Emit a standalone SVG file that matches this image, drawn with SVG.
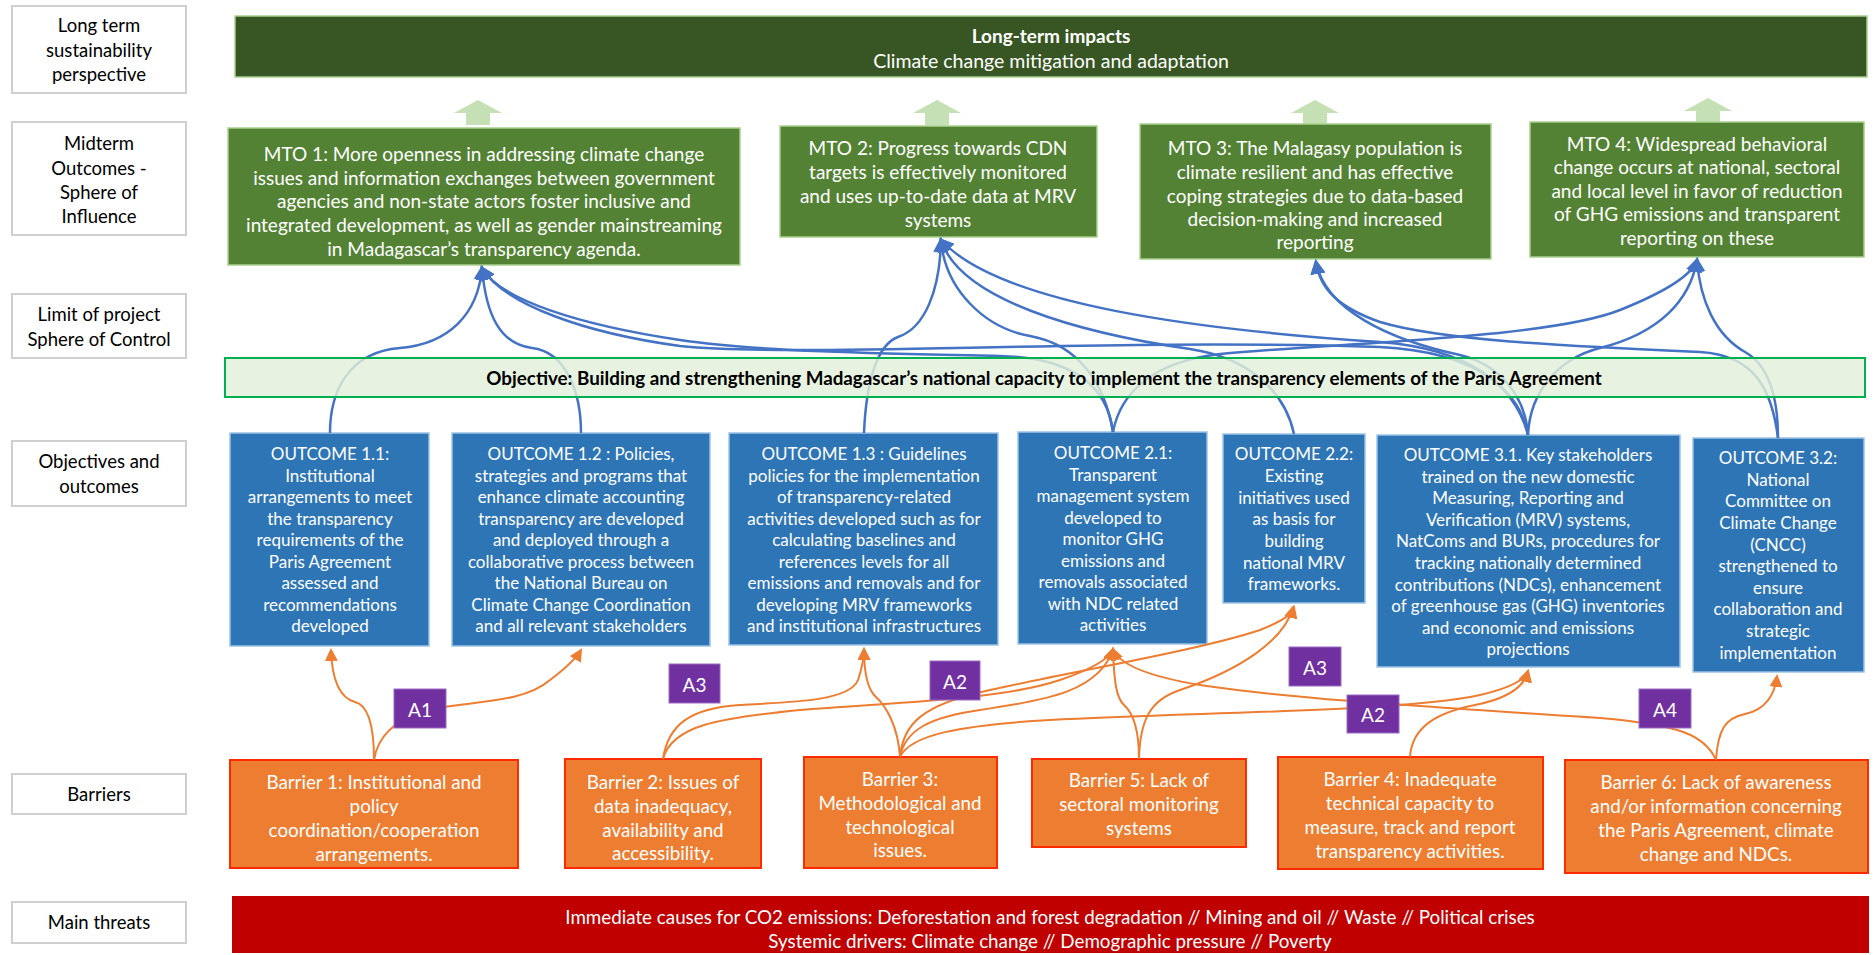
<svg xmlns="http://www.w3.org/2000/svg" width="1874" height="955" viewBox="0 0 1874 955">
<defs>
<style>
text { font-family: Lato, "Liberation Sans", sans-serif; dominant-baseline: central; text-anchor: middle; }
.lbl rect { fill:#FFFFFF; stroke:#CFCFCF; stroke-width:2; }
.lbl text { fill:#000000; font-size:18.5px; }
.top rect { fill:#375623; stroke:#A9D18E; stroke-width:1.5; }
.top text { fill:#FFFFFF; font-size:19.5px; }
.mto rect { fill:#548235; stroke:#A9D18E; stroke-width:1.5; }
.mto text { fill:#FFFFFF; font-size:19px; }
.out rect { fill:#2E75B6; stroke:#9DC3E6; stroke-width:1.5; }
.out text { fill:#FFFFFF; font-size:17px; }
.bar rect { fill:#ED7D31; stroke:#FF2A00; stroke-width:2; }
.bar text { fill:#FFFFFF; font-size:18.8px; }
.act rect { fill:#7030A0; stroke:#9A6CC4; stroke-width:1; }
.act text { fill:#FFFFFF; font-size:19px; }
.thr rect { fill:#C00000; }
.thr text { fill:#FFFFFF; font-size:18.8px; }
.obj rect { fill:#E2F0D9; fill-opacity:0.82; stroke:#00B050; stroke-width:2; }
.obj text { fill:#000000; font-size:18.8px; font-weight:bold; }
.bl { fill:none; stroke:#4472C4; stroke-width:2.5; marker-end:url(#ab); }
.or { fill:none; stroke:#ED7D31; stroke-width:2; marker-end:url(#ao); }
.up { fill:#C5E0B4; }
</style>
<marker id="ab" markerUnits="userSpaceOnUse" markerWidth="15" markerHeight="15" viewBox="0 0 15 15" refX="12" refY="7.5" orient="auto"><path d="M0,0 L15,7.5 L0,15 z" fill="#4472C4"/></marker>
<marker id="ao" markerUnits="userSpaceOnUse" markerWidth="13" markerHeight="13" viewBox="0 0 13 13" refX="11" refY="6.5" orient="auto"><path d="M0,0 L13,6.5 L0,13 z" fill="#ED7D31"/></marker>
</defs>

<!-- Left labels -->
<g id="lbl-longterm" class="lbl"><rect x="12" y="6" width="174" height="87"/><text><tspan x="99" y="25">Long term</tspan><tspan x="99" y="50">sustainability</tspan><tspan x="99" y="74">perspective</tspan></text></g>
<g id="lbl-midterm" class="lbl"><rect x="12" y="122" width="174" height="113"/><text><tspan x="99" y="143">Midterm</tspan><tspan x="99" y="168">Outcomes -</tspan><tspan x="99" y="192">Sphere of</tspan><tspan x="99" y="216">Influence</tspan></text></g>
<g id="lbl-limit" class="lbl"><rect x="12" y="294" width="174" height="64"/><text><tspan x="99" y="314">Limit of project</tspan><tspan x="99" y="339">Sphere of Control</tspan></text></g>
<g id="lbl-objectives" class="lbl"><rect x="12" y="441" width="174" height="65"/><text><tspan x="99" y="461">Objectives and</tspan><tspan x="99" y="486">outcomes</tspan></text></g>
<g id="lbl-barriers" class="lbl"><rect x="12" y="774" width="174" height="40"/><text x="99" y="794">Barriers</text></g>
<g id="lbl-threats" class="lbl"><rect x="12" y="902" width="174" height="41"/><text x="99" y="922">Main threats</text></g>

<!-- Long-term impacts -->
<g id="impacts" class="top"><rect x="235" y="16" width="1632" height="61"/><text><tspan x="1051" y="35" font-weight="bold" font-size="19px">Long-term impacts</tspan><tspan x="1051" y="60">Climate change mitigation and adaptation</tspan></text></g>

<!-- Block arrows -->
<g id="up-arrows">
<polygon class="up" points="478,100 502,113 490,113 490,125 466,125 466,113 454,113"/>
<polygon class="up" points="937,100 961,113 949,113 949,125 925,125 925,113 913,113"/>
<polygon class="up" points="1315,100 1339,113 1327,113 1327,125 1303,125 1303,113 1291,113"/>
<polygon class="up" points="1708,98 1732,111 1720,111 1720,123 1696,123 1696,111 1684,111"/>
</g>

<!-- MTOs -->
<g id="mto1" class="mto"><rect x="228" y="128" width="512" height="137"/><text><tspan x="484" y="153">MTO 1: More openness in addressing climate change</tspan><tspan x="484" y="177">issues and information exchanges between government</tspan><tspan x="484" y="200">agencies and non-state actors foster inclusive and</tspan><tspan x="484" y="224">integrated development, as well as gender mainstreaming</tspan><tspan x="484" y="248">in Madagascar’s transparency agenda.</tspan></text></g>
<g id="mto2" class="mto"><rect x="780" y="126" width="317" height="111"/><text><tspan x="938" y="147">MTO 2: Progress towards CDN</tspan><tspan x="938" y="171">targets is effectively monitored</tspan><tspan x="938" y="195">and uses up-to-date data at MRV</tspan><tspan x="938" y="219">systems</tspan></text></g>
<g id="mto3" class="mto"><rect x="1140" y="124" width="351" height="135"/><text><tspan x="1315" y="147">MTO 3: The Malagasy population is</tspan><tspan x="1315" y="171">climate resilient and has effective</tspan><tspan x="1315" y="195">coping strategies due to data-based</tspan><tspan x="1315" y="218">decision-making and increased</tspan><tspan x="1315" y="241">reporting</tspan></text></g>
<g id="mto4" class="mto"><rect x="1530" y="122" width="334" height="135"/><text><tspan x="1697" y="143">MTO 4: Widespread behavioral</tspan><tspan x="1697" y="166">change occurs at national, sectoral</tspan><tspan x="1697" y="190">and local level in favor of reduction</tspan><tspan x="1697" y="213">of GHG emissions and transparent</tspan><tspan x="1697" y="237">reporting on these</tspan></text></g>

<!-- Outcomes -->
<g id="o11" class="out"><rect x="230" y="433" width="199" height="213"/><text><tspan x="330" y="453">OUTCOME 1.1:</tspan><tspan x="330" y="475">Institutional</tspan><tspan x="330" y="496">arrangements to meet</tspan><tspan x="330" y="518">the transparency</tspan><tspan x="330" y="539">requirements of the</tspan><tspan x="330" y="561">Paris Agreement</tspan><tspan x="330" y="582">assessed and</tspan><tspan x="330" y="604">recommendations</tspan><tspan x="330" y="625">developed</tspan></text></g>
<g id="o12" class="out"><rect x="452" y="433" width="258" height="213"/><text><tspan x="581" y="453">OUTCOME 1.2 : Policies,</tspan><tspan x="581" y="475">strategies and programs that</tspan><tspan x="581" y="496">enhance climate accounting</tspan><tspan x="581" y="518">transparency are developed</tspan><tspan x="581" y="539">and deployed through a</tspan><tspan x="581" y="561">collaborative process between</tspan><tspan x="581" y="582">the National Bureau on</tspan><tspan x="581" y="604">Climate Change Coordination</tspan><tspan x="581" y="625">and all relevant stakeholders</tspan></text></g>
<g id="o13" class="out"><rect x="729" y="433" width="269" height="212"/><text><tspan x="864" y="453">OUTCOME 1.3 : Guidelines</tspan><tspan x="864" y="475">policies for the implementation</tspan><tspan x="864" y="496">of transparency-related</tspan><tspan x="864" y="518">activities developed such as for</tspan><tspan x="864" y="539">calculating baselines and</tspan><tspan x="864" y="561">references levels for all</tspan><tspan x="864" y="582">emissions and removals and for</tspan><tspan x="864" y="604">developing MRV frameworks</tspan><tspan x="864" y="625">and institutional infrastructures</tspan></text></g>
<g id="o21" class="out"><rect x="1018" y="432" width="189" height="212"/><text><tspan x="1113" y="452">OUTCOME 2.1:</tspan><tspan x="1113" y="474">Transparent</tspan><tspan x="1113" y="495">management system</tspan><tspan x="1113" y="517">developed to</tspan><tspan x="1113" y="538">monitor GHG</tspan><tspan x="1113" y="560">emissions and</tspan><tspan x="1113" y="581">removals associated</tspan><tspan x="1113" y="603">with NDC related</tspan><tspan x="1113" y="624">activities</tspan></text></g>
<g id="o22" class="out"><rect x="1223" y="434" width="142" height="169"/><text><tspan x="1294" y="453">OUTCOME 2.2:</tspan><tspan x="1294" y="475">Existing</tspan><tspan x="1294" y="497">initiatives used</tspan><tspan x="1294" y="518">as basis for</tspan><tspan x="1294" y="540">building</tspan><tspan x="1294" y="562">national MRV</tspan><tspan x="1294" y="583">frameworks.</tspan></text></g>
<g id="o31" class="out"><rect x="1377" y="435" width="303" height="232"/><text><tspan x="1528" y="454">OUTCOME 3.1. Key stakeholders</tspan><tspan x="1528" y="476">trained on the new domestic</tspan><tspan x="1528" y="497">Measuring, Reporting and</tspan><tspan x="1528" y="519">Verification (MRV) systems,</tspan><tspan x="1528" y="540">NatComs and BURs, procedures for</tspan><tspan x="1528" y="562">tracking nationally determined</tspan><tspan x="1528" y="584">contributions (NDCs), enhancement</tspan><tspan x="1528" y="605">of greenhouse gas (GHG) inventories</tspan><tspan x="1528" y="627">and economic and emissions</tspan><tspan x="1528" y="648">projections</tspan></text></g>
<g id="o32" class="out"><rect x="1693" y="438" width="171" height="234"/><text><tspan x="1778" y="457">OUTCOME 3.2:</tspan><tspan x="1778" y="479">National</tspan><tspan x="1778" y="500">Committee on</tspan><tspan x="1778" y="522">Climate Change</tspan><tspan x="1778" y="544">(CNCC)</tspan><tspan x="1778" y="565">strengthened to</tspan><tspan x="1778" y="587">ensure</tspan><tspan x="1778" y="608">collaboration and</tspan><tspan x="1778" y="630">strategic</tspan><tspan x="1778" y="652">implementation</tspan></text></g>

<!-- Barriers -->
<g id="b1" class="bar"><rect x="230" y="760" width="288" height="108"/><text><tspan x="374" y="781">Barrier 1: Institutional and</tspan><tspan x="374" y="805">policy</tspan><tspan x="374" y="829">coordination/cooperation</tspan><tspan x="374" y="853">arrangements.</tspan></text></g>
<g id="b2" class="bar"><rect x="565" y="759" width="196" height="109"/><text><tspan x="663" y="781">Barrier 2: Issues of</tspan><tspan x="663" y="805">data inadequacy,</tspan><tspan x="663" y="829">availability and</tspan><tspan x="663" y="852">accessibility.</tspan></text></g>
<g id="b3" class="bar"><rect x="804" y="757" width="193" height="111"/><text><tspan x="900" y="778">Barrier 3:</tspan><tspan x="900" y="802">Methodological and</tspan><tspan x="900" y="826">technological</tspan><tspan x="900" y="849">issues.</tspan></text></g>
<g id="b5" class="bar"><rect x="1032" y="759" width="214" height="88"/><text><tspan x="1139" y="779">Barrier 5: Lack of</tspan><tspan x="1139" y="803">sectoral monitoring</tspan><tspan x="1139" y="827">systems</tspan></text></g>
<g id="b4" class="bar"><rect x="1278" y="757" width="265" height="112"/><text><tspan x="1410" y="778">Barrier 4: Inadequate</tspan><tspan x="1410" y="802">technical capacity to</tspan><tspan x="1410" y="826">measure, track and report</tspan><tspan x="1410" y="850">transparency activities.</tspan></text></g>
<g id="b6" class="bar"><rect x="1565" y="760" width="303" height="113"/><text><tspan x="1716" y="781">Barrier 6: Lack of awareness</tspan><tspan x="1716" y="805">and/or information concerning</tspan><tspan x="1716" y="829">the Paris Agreement, climate</tspan><tspan x="1716" y="853">change and NDCs.</tspan></text></g>

<!-- Threats -->
<g id="threats" class="thr"><rect x="232" y="896" width="1637" height="57"/><text><tspan x="1050" y="916">Immediate causes for CO2 emissions: Deforestation and forest degradation // Mining and oil // Waste // Political crises</tspan><tspan x="1050" y="940">Systemic drivers: Climate change // Demographic pressure // Poverty</tspan></text></g>

<!-- Connectors -->
<g id="connectors">
<path class="bl" d="M330,433 C330,392 348,352 400,348 C448,344 478,315 482,268"/>
<path class="bl" d="M581,433 C581,392 566,352 532,348 C500,344 486,315 482,268"/>
<path class="bl" d="M1113,432 C1108,392 1080,358 1000,356 C900,354 760,352 680,340 C580,325 500,300 482,268"/>
<path class="bl" d="M1528,435 C1520,392 1480,352 1380,347 C1100,338 800,358 680,346 C585,333 505,305 482,268"/>
<path class="bl" d="M864,433 C866,385 876,345 898,337 C925,328 940,290 941,240"/>
<path class="bl" d="M1113,432 C1105,385 1080,345 1030,336 C985,328 945,290 941,240"/>
<path class="bl" d="M1294,434 C1285,392 1250,358 1190,349 C1080,333 960,300 941,240"/>
<path class="bl" d="M1528,435 C1515,385 1470,349 1380,342 C1200,330 1000,305 941,240"/>
<path class="bl" d="M1528,435 C1525,395 1500,365 1460,355 C1390,340 1325,310 1316,262"/>
<path class="bl" d="M1778,438 C1772,390 1755,355 1700,352 C1560,346 1440,340 1380,322 C1340,308 1320,290 1316,262"/>
<path class="bl" d="M1528,435 C1530,390 1560,358 1600,348 C1660,333 1690,300 1697,260"/>
<path class="bl" d="M1778,438 C1778,395 1768,365 1745,352 C1715,335 1700,300 1697,260"/>
<path class="bl" d="M1113,432 C1120,395 1150,362 1220,354 C1350,342 1550,338 1620,310 C1665,292 1692,275 1697,260"/>

<path class="or" d="M374,760 C374,725 368,705 355,702 C340,698 332,680 331,650"/>
<path class="or" d="M374,760 C378,735 395,722 420,712 C460,700 520,706 550,680 C570,665 578,655 581,650"/>
<path class="or" d="M663,759 C668,725 690,708 740,705 C800,702 850,700 858,680 C862,668 864,658 864,649"/>
<path class="or" d="M663,759 C672,725 720,718 800,710 C900,702 1000,700 1060,680 C1095,668 1110,658 1113,649"/>
<path class="or" d="M900,757 C898,725 885,705 876,697 C868,690 864,672 864,649"/>
<path class="or" d="M900,757 C905,730 930,717 980,710 C1050,700 1100,690 1113,649"/>
<path class="or" d="M900,757 C903,725 920,705 990,690 C1080,670 1200,650 1260,630 C1285,620 1292,614 1294,607"/>
<path class="or" d="M900,757 C910,735 960,725 1050,720 C1200,712 1400,712 1480,695 C1510,688 1525,680 1528,671"/>
<path class="or" d="M1139,759 C1139,725 1132,712 1124,705 C1116,698 1114,680 1113,649"/>
<path class="or" d="M1139,759 C1140,720 1150,700 1180,690 C1240,670 1285,640 1293,607"/>
<path class="or" d="M1410,757 C1412,725 1440,712 1475,705 C1510,698 1525,685 1528,671"/>
<path class="or" d="M1716,760 C1705,735 1680,725 1600,718 C1450,708 1300,700 1200,685 C1140,675 1118,662 1113,649"/>
<path class="or" d="M1716,760 C1718,730 1725,718 1745,714 C1765,710 1775,695 1777,676"/>
</g>

<!-- Objective (semi-transparent over connectors) -->
<g id="objective" class="obj"><rect x="225" y="358" width="1640" height="39"/><text x="1044" y="377">Objective: Building and strengthening Madagascar’s national capacity to implement the transparency elements of the Paris Agreement</text></g>

<!-- Activity tags -->
<g id="a1" class="act"><rect x="394" y="689" width="52" height="39"/><text x="420" y="709">A1</text></g>
<g id="a3-left" class="act"><rect x="669" y="664" width="51" height="39"/><text x="694.5" y="684">A3</text></g>
<g id="a2-left" class="act"><rect x="930" y="661" width="50" height="39"/><text x="955" y="681">A2</text></g>
<g id="a3-right" class="act"><rect x="1289" y="647" width="52" height="39"/><text x="1315" y="667">A3</text></g>
<g id="a2-right" class="act"><rect x="1347" y="695" width="52" height="38"/><text x="1373" y="714">A2</text></g>
<g id="a4" class="act"><rect x="1639" y="689" width="52" height="39"/><text x="1665" y="709">A4</text></g>
</svg>
